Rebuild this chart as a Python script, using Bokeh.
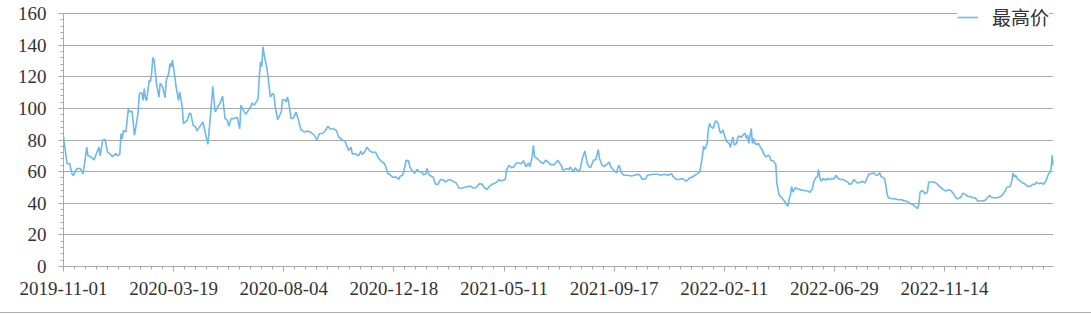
from bokeh.plotting import figure
from bokeh.models import (FixedTicker, SingleIntervalTicker, Range1d, Legend, LegendItem)
from bokeh.embed import file_html
from bokeh.resources import INLINE

series_name = "最高价"
tick_labels = ["2019-11-01", "2020-03-19", "2020-08-04", "2020-12-18", "2021-05-11",
               "2021-09-17", "2022-02-11", "2022-06-29", "2022-11-14"]
label_interval = 90
n_days = 810

day_index = [
    0, 2, 3, 5, 7, 8, 11, 13, 14, 16, 17, 19, 20, 22, 25, 27, 29, 30, 32, 34, 36, 38, 40, 43, 44, 46, 47, 48, 49, 51,
    53, 54, 56, 58, 60, 61, 62, 64, 65, 66, 67, 68, 70, 71, 72, 73, 74, 76, 78, 79, 81, 83, 84, 86, 87, 88, 89, 91,
    92, 94, 95, 97, 98, 101, 103, 104, 106, 108, 109, 112, 114, 116, 118, 120, 122, 123, 124, 126, 128, 130, 132, 134,
    135, 137, 139, 141, 142, 144, 145, 147, 149, 152, 153, 154, 156, 158, 159, 160, 161, 162, 163, 164, 166, 167, 169,
    171, 172, 173, 175, 176, 178, 179, 181, 182, 183, 184, 186, 188, 190, 192, 194, 197, 199, 202, 205, 207, 209, 212,
    214, 216, 218, 221, 223, 225, 228, 230, 232, 233, 235, 236, 239, 241, 243, 244, 246, 248, 250, 252, 255, 257, 259,
    262, 263, 265, 267, 269,
    272, 274, 275, 277, 278, 280, 282, 283, 285, 287, 289, 291, 293, 294, 296, 297, 299, 302, 304, 306, 308, 311, 312,
    314, 316, 318, 321, 323, 326, 329, 331, 333, 335, 337, 340, 342, 344, 346, 348, 350, 352, 354, 356, 357, 359, 361,
    362, 364, 366, 368, 370, 372, 374, 376, 378, 380, 381, 383, 384, 385, 387, 390, 392, 394, 396, 398, 401, 404,
    407, 408, 411, 413, 414, 416, 417, 418, 420, 422, 424, 426, 428, 430, 431, 433, 435, 437, 438, 440, 442, 444, 446,
    447, 449, 452, 453, 454, 456, 458, 461, 464, 467, 469, 471, 473, 476, 477, 482, 486, 488, 491, 494, 497, 498, 501,
    503, 506, 509, 512, 514, 516, 518, 520, 522, 523, 524, 526, 527, 528, 529, 531, 532, 533, 535, 536, 537, 539, 540,
    541, 542, 544, 545, 546, 547, 548, 550, 551, 552, 554, 555, 557, 558, 559, 560, 562, 563, 564, 565, 566, 568, 570,
    571, 572, 574, 576, 577, 578, 580, 581, 582, 583, 584, 585, 587, 589, 591, 592, 593, 594, 595, 596, 598, 600, 602,
    605, 608, 610, 612, 613, 615, 616, 617, 618, 619, 621, 623, 624, 626, 628, 630, 631, 633, 635, 637, 639, 641, 642,
    644, 646, 647, 649, 652, 653, 655, 658, 660, 662, 664, 665, 667, 668, 671, 672, 673, 674, 677,
    679, 682, 685, 687, 689, 692, 694, 696, 698, 699, 700, 702, 704, 706, 707, 709, 711, 713, 715, 717, 719, 721, 723,
    725, 727, 728, 730, 733, 735, 737, 739, 741, 743, 745, 747, 749, 751, 753, 755, 757, 758, 760, 763, 765, 767, 769,
    770, 771, 773, 774, 775, 776, 777, 778, 780, 782, 784, 786, 788, 790, 792, 794, 795, 797, 799, 801, 803, 805, 806,
    807, 808, 809,
]

high_price = [
    82.2, 70, 65, 65, 58.5, 57.5, 62, 62, 61.7, 58.5, 64, 75.5, 70, 69.5, 67.4, 71.6, 75.5, 70, 80, 80.3, 72.3, 71.2,
    69.5, 71.6, 70, 71, 84, 80.8, 86, 85,
    99.8, 97.7, 98.3, 83, 92.4, 97.7, 109.4, 109.8, 105, 112.5, 106, 105, 117.8, 116.8, 122, 132.2, 130.5, 115.7, 107,
    116, 113.6, 106.8, 117.8, 122, 128.4, 126.3, 130.5, 120,
    113.6, 105, 110.4, 101, 90.3, 92.4, 97, 96.6, 89.2, 88.2, 85.6, 89.2, 91.4, 84, 77.2, 94.5, 114, 105, 97.7, 101,
    103.4, 107.7, 93.5, 92.4,
    88.6, 93.5, 93.5, 94, 94.5, 87, 102, 98.7, 96.2, 100, 101, 103.4, 102, 104.7, 106, 120, 129.5, 126.3, 139, 133.7,
    126.3, 121, 107.2,
    109.4, 108.3, 101, 92.8, 94.5, 97.7, 105.5, 105.5, 104, 107.2, 104, 93.5, 94, 97.7, 92.8, 86.5, 85, 85.6, 85, 83,
    80, 84, 84.3,
    86, 88.6, 87, 87, 86, 81.8, 80, 79.3, 75.5, 73.3, 75.5, 71.2, 71.2, 70, 73, 70.8, 72.3, 75.5, 73.3, 72.3, 72.3, 69,
    67,
    65.3, 63.8, 59, 58, 56.4,
    56.5, 55, 57, 57.7, 59.8, 67.2, 66.8, 63, 60.4, 59, 61.3, 59.8, 59.8, 58, 58.3, 62, 57.7, 56.6, 52, 52, 55, 54.5,
    53.4,
    54.5, 55, 54, 52.8, 49.6, 49.6, 50.3, 50.7, 50.7, 49.6, 49.8, 52.4, 52, 49.8, 48.6, 50.7, 52, 52.4, 53.4, 55, 54,
    54.5, 55,
    60.8, 64, 62.5, 63, 65.5, 65.5, 65, 66.8, 63, 65.5, 63, 69.3, 76.7, 69.3, 68.3, 66.1, 65, 67.2, 66.1, 64.4, 64.4,
    67.2,
    63.5, 60.8, 61.9, 61.3, 63, 60.8, 59.8, 62.5, 60.8, 60.8, 68.3, 73.1, 65, 62.5, 63, 67.2, 67.6, 74, 68.3, 64, 63.4,
    64.6, 66.1,
    63.4, 61.3, 59.2, 62.5, 64, 59.2, 57.7, 57.7, 57.2, 57.7, 58.3, 57.7, 55, 55.6, 57.7, 58.3, 58.3, 57.7, 58.3, 57.7,
    58.7, 57, 55,
    55, 55.6, 54, 56.2, 56.6, 57.7, 58.7, 59.8, 69.3, 76.1, 74, 77.8, 87.3, 90.5, 88.4, 87.3, 90.5, 92.2, 90.5, 86.3,
    84.2, 86.3, 83.1,
    81, 79, 77.8, 75.3, 78.9, 82, 76.7, 77.8, 81.6, 82.5, 81.6, 83, 84.2, 81, 83, 77.8, 87.3, 77.8, 81, 77.8, 77.2,
    77.8, 74.6,
    74, 71.4, 69.3, 70.4, 69.7, 67.2, 66.8, 65.5, 65, 52.4, 48.1, 45, 43.5, 41.4, 39.2, 38, 42.8, 45, 50.7, 47, 49.8,
    49.2, 48.6,
    48.1, 47.7, 47, 49.2, 53.4, 56.6, 56.6, 61.3, 56.6, 54, 55.6, 54.5, 55.6, 55, 55.6, 55.6, 57.7, 55.6, 55, 55, 54,
    53.4, 52,
    52.4, 55, 54, 52.8, 53.4, 54, 52.8, 58.3, 58.7, 59.2, 57.7, 57.7, 59.2, 57, 55.6, 51.3, 46, 43.5, 42.8,
    42.8, 42.2, 42.2, 41.4, 41.4, 39.7, 39.2, 38, 36.5, 39.7, 47.1, 48.1, 46, 47.1, 53.4, 53.4, 53.4, 52.8, 51.3, 49.8,
    48.6, 47.7, 48.6,
    48.1, 46.4, 45, 42.8, 43.5, 46.4, 45.6, 44.3, 44.3, 43.5, 43.5, 41.4, 41.4, 41.4, 41.8, 43.5, 45, 43.9, 43.5, 43.5,
    43.9, 45, 47.1,
    48.6, 50.3, 50.3, 51.3, 54.5, 59.2, 56.6, 57.7, 55, 54, 52.8, 52, 50.7, 50.7, 52, 52, 53.4, 52.4, 52.8, 52, 54.5,
    58.7, 59.2,
    61.9, 70.4, 63.5,
]

assert len(day_index) == len(high_price)

text_color = "#333333"
grid_color = "#a9a9a9"
line_color = "#6cb8ef"
tick_font = "Liberation Serif"
y_max = 160
# frame extends above the top gridline so the legend (which sits above it) is not clipped
y_view_top = y_max * 266.0 / 253.0

p = figure(width=1091, height=313, output_backend="svg", toolbar_location=None,
           x_range=Range1d(0, n_days - 1), y_range=Range1d(0, y_view_top),
           min_border_left=63, min_border_right=38, min_border_top=0, min_border_bottom=47)
p.styles = {"border-bottom": "1px solid #aaaaaa"}
p.outline_line_color = None
p.background_fill_color = "white"
p.border_fill_color = "white"

r = p.line(day_index, high_price, line_color=line_color, line_width=1.6)

# x axis (category-like index axis)
major = [k * label_interval for k in range(len(tick_labels))]
p.xaxis.ticker = FixedTicker(ticks=major, minor_ticks=list(range(0, n_days - 1, 9)))
p.xaxis.major_label_overrides = {m: lab for m, lab in zip(major, tick_labels)}
p.xaxis.axis_line_color = grid_color
p.xaxis.major_tick_line_color = grid_color
p.xaxis.minor_tick_line_color = grid_color
p.xaxis.major_tick_out = 5
p.xaxis.major_tick_in = 0
p.xaxis.minor_tick_out = 3
p.xaxis.minor_tick_in = 0
p.xaxis.major_label_standoff = 10
p.xaxis.major_label_text_font = tick_font
p.xaxis.major_label_text_font_size = "19px"
p.xaxis.major_label_text_color = text_color

# y axis
p.yaxis.ticker = SingleIntervalTicker(interval=20, num_minor_ticks=5)
p.yaxis.bounds = (0, y_max)
p.yaxis.axis_line_color = grid_color
p.yaxis.major_tick_line_color = grid_color
p.yaxis.minor_tick_line_color = grid_color
p.yaxis.major_tick_out = 5
p.yaxis.major_tick_in = 0
p.yaxis.minor_tick_out = 3
p.yaxis.minor_tick_in = 0
p.yaxis.major_label_standoff = 12
p.yaxis.major_label_text_font = tick_font
p.yaxis.major_label_text_font_size = "19px"
p.yaxis.major_label_text_color = text_color

p.xgrid.grid_line_color = None
p.ygrid.grid_line_color = grid_color
p.ygrid.grid_line_width = 1
p.ygrid.bounds = (0, y_max)

legend = Legend(items=[LegendItem(label=series_name, renderers=[r])],
                location=(894, 236), orientation="horizontal",
                background_fill_color="white", background_fill_alpha=1.0,
                border_line_color=None, padding=5, margin=0,
                glyph_width=21, label_standoff=14,
                label_text_font="Noto Sans CJK SC", label_text_font_size="19px",
                label_text_color=text_color)
p.add_layout(legend)

open("out.html", "w").write(file_html(p, INLINE))
